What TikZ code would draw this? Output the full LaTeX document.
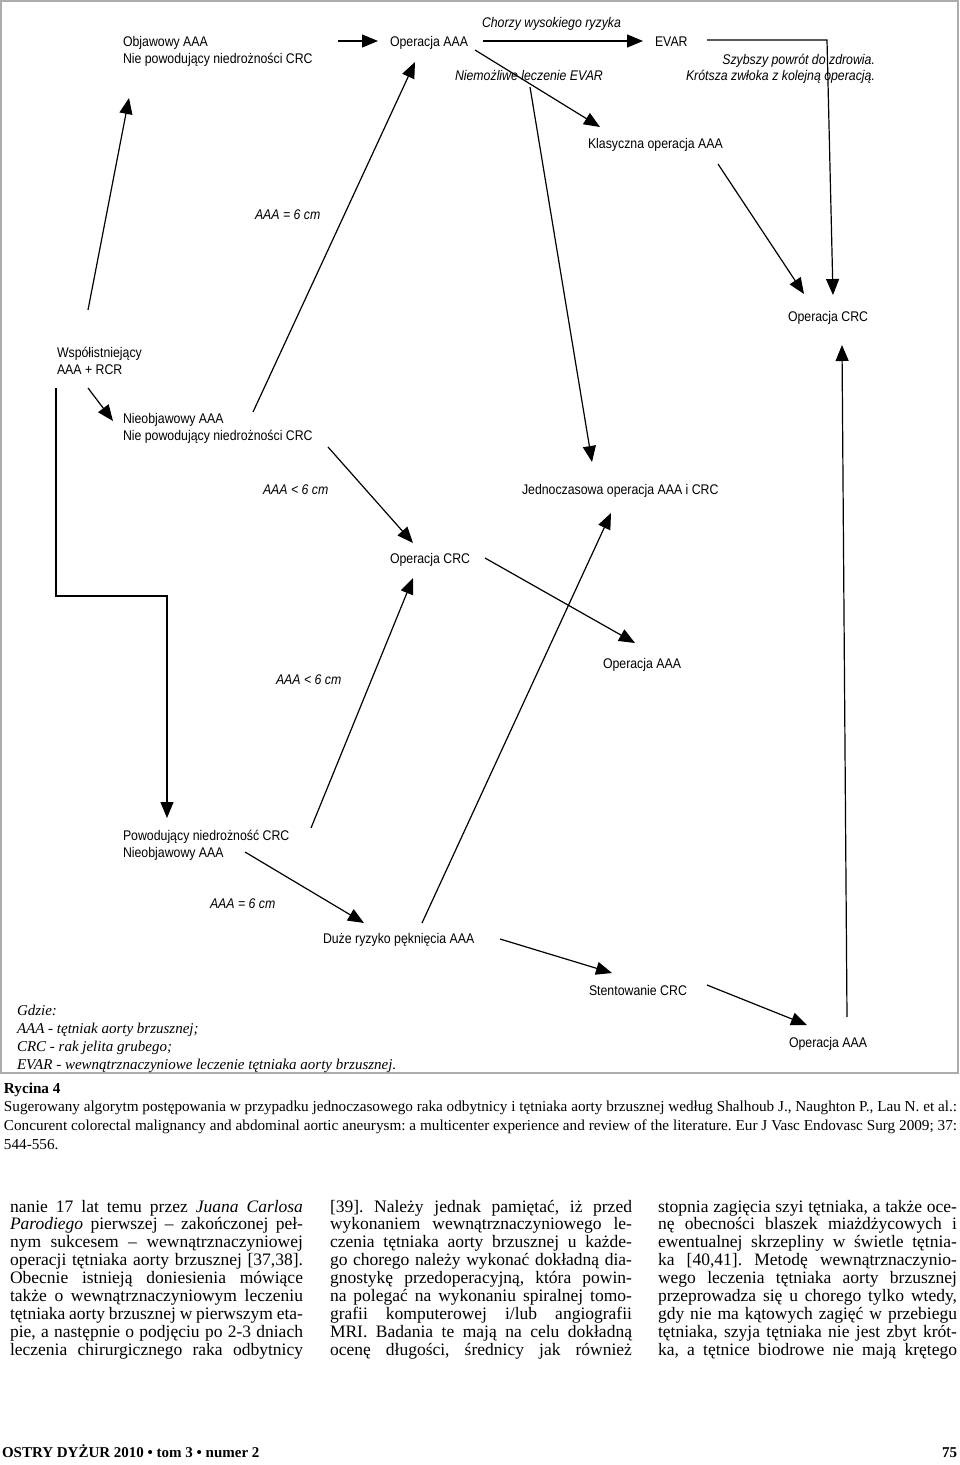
\documentclass[tikz,border=0pt]{standalone}
\usepackage{fontspec}
\setmainfont{Liberation Serif}
\newfontfamily\arial{Liberation Sans}
\usepackage{graphicx}
\usetikzlibrary{arrows.meta}
\frenchspacing
\newcommand\dtx[1]{\scalebox{0.88}[1]{\begin{tabular}[t]{@{}l@{}}#1\end{tabular}}}
\newcommand\dtr[1]{\scalebox{0.88}[1]{\begin{tabular}[t]{@{}r@{}}#1\end{tabular}}}
\newcommand\jl[2]{\makebox[#1][s]{#2}}
\newcommand\coltab[1]{\begin{tabular}[t]{@{}l@{}}#1\end{tabular}}
\begin{document}
\begin{tikzpicture}[x=1pt,y=-1pt]
\tikzset{
  lab/.style={anchor=base west, inner sep=0pt, outer sep=0pt, font=\arial\fontsize{14}{17.5}\selectfont},
  labr/.style={anchor=base east, inner sep=0pt, outer sep=0pt, font=\arial\itshape\fontsize{14}{16}\selectfont},
  arr/.style={-{Triangle[length=16pt,width=13pt]}, line width=1.2pt},
  bodytext/.style={anchor=base west, inner sep=0pt, outer sep=0pt, font=\frenchspacing\fontsize{17.5}{17.9}\selectfont},
  captext/.style={anchor=base west, inner sep=0pt, outer sep=0pt, font=\frenchspacing\fontsize{15.2}{18.7}\selectfont},
  legtext/.style={anchor=base west, inner sep=0pt, outer sep=0pt, font=\itshape\fontsize{15}{18}\selectfont},
  foottext/.style={inner sep=0pt, outer sep=0pt, font=\bfseries\fontsize{15}{18}\selectfont},
}
\useasboundingbox (0,0) rectangle (960,1465);
\fill[white] (0,0) rectangle (960,1465);
\draw[gray!65, line width=2pt] (1,1) rectangle (958,1073);

% ---- diagram nodes ----
\node[lab] (obj) at (123,46) {\dtx{Objawowy AAA\\Nie powodujący niedrożności CRC}};
\node[lab] (opA1) at (390,46) {\dtx{Operacja AAA}};
\node[lab] (chorzy) at (482,27) {\dtx{\itshape Chorzy wysokiego ryzyka}};
\node[lab] (evar) at (655,46) {\dtx{EVAR}};
\node[labr] (szyb) at (875,64) {\dtr{\itshape Szybszy powrót do zdrowia.\\\itshape Krótsza zwłoka z kolejną operacją.}};
\node[lab] (niem) at (455,80) {\dtx{\itshape Niemożliwe leczenie EVAR}};
\node[lab] (klas) at (588,148) {\dtx{Klasyczna operacja AAA}};
\node[lab] (aaa6a) at (255,219) {\dtx{\itshape AAA = 6 cm}};
\node[lab] (opC1) at (788,321) {\dtx{Operacja CRC}};
\node[lab] (wsp) at (57,357) {\dtx{Współistniejący\\AAA + RCR}};
\node[lab] (nieob) at (123,423) {\dtx{Nieobjawowy AAA\\Nie powodujący niedrożności CRC}};
\node[lab] (aaal6a) at (263,494) {\dtx{\itshape AAA < 6 cm}};
\node[lab] (jedn) at (522,494) {\dtx{Jednoczasowa operacja AAA i CRC}};
\node[lab] (opC2) at (390,563) {\dtx{Operacja CRC}};
\node[lab] (opA2) at (603,668) {\dtx{Operacja AAA}};
\node[lab] (aaal6b) at (276,684) {\dtx{\itshape AAA < 6 cm}};
\node[lab] (pow) at (123,840) {\dtx{Powodujący niedrożność CRC\\Nieobjawowy AAA}};
\node[lab] (aaa6b) at (210,908) {\dtx{\itshape AAA = 6 cm}};
\node[lab] (duze) at (323,943) {\dtx{Duże ryzyko pęknięcia AAA}};
\node[lab] (stent) at (589,995) {\dtx{Stentowanie CRC}};
\node[lab] (opA3) at (789,1047) {\dtx{Operacja AAA}};

% ---- connector end points ----
\coordinate (a1s) at (338,41);  \coordinate (a1e) at (378,41);
\coordinate (a2s) at (483,41);  \coordinate (a2e) at (643,41);
\coordinate (a3s) at (707,40);  \coordinate (a3m) at (827,40); \coordinate (a3e) at (833,295);
\coordinate (a4s) at (475,50);  \coordinate (a4e) at (600,127);
\coordinate (a5s) at (530,87);  \coordinate (a5e) at (592,462);
\coordinate (a6s) at (718,164); \coordinate (a6e) at (804,294);
\coordinate (a7s) at (847,1017);\coordinate (a7e) at (842,345);
\coordinate (a8s) at (88,310);  \coordinate (a8e) at (129,98);
\coordinate (a9s) at (253,412); \coordinate (a9e) at (415,62);
\coordinate (a10s) at (88,388); \coordinate (a10e) at (113,421);
\coordinate (a11s) at (56,388); \coordinate (a11m) at (56,596); \coordinate (a11n) at (167,596); \coordinate (a11e) at (167,818);
\coordinate (a12s) at (328,447);\coordinate (a12e) at (413,543);
\coordinate (a13s) at (485,558);\coordinate (a13e) at (635,643);
\coordinate (a14s) at (311,828);\coordinate (a14e) at (413,578);
\coordinate (a15s) at (422,923);\coordinate (a15e) at (611,513);
\coordinate (a16s) at (245,852);\coordinate (a16e) at (364,923);
\coordinate (a17s) at (500,939);\coordinate (a17e) at (612,973);
\coordinate (a18s) at (707,985);\coordinate (a18e) at (807,1025);

% ---- connectors ----
\draw[arr] (a1s) -- (a1e);
\draw[arr] (a2s) -- (a2e);
\draw[arr] (a3s) -- (a3m) -- (a3e);
\draw[arr] (a4s) -- (a4e);
\draw[arr] (a5s) -- (a5e);
\draw[arr] (a6s) -- (a6e);
\draw[arr] (a7s) -- (a7e);
\draw[arr] (a8s) -- (a8e);
\draw[arr] (a9s) -- (a9e);
\draw[arr] (a10s) -- (a10e);
\draw[arr] (a11s) -- (a11m) -- (a11n) -- (a11e);
\draw[arr] (a12s) -- (a12e);
\draw[arr] (a13s) -- (a13e);
\draw[arr] (a14s) -- (a14e);
\draw[arr] (a15s) -- (a15e);
\draw[arr] (a16s) -- (a16e);
\draw[arr] (a17s) -- (a17e);
\draw[arr] (a18s) -- (a18e);

% ---- legend ----
\node[legtext] (legend) at (17,1015) {\coltab{Gdzie:\\AAA - tętniak aorty brzusznej;\\CRC - rak jelita grubego;\\EVAR - wewnątrznaczyniowe leczenie tętniaka aorty brzusznej.}};

% ---- caption ----
\node[captext] (caption) at (4,1093) {\coltab{\textbf{Rycina 4}\\
\jl{953pt}{Sugerowany algorytm postępowania w przypadku jednoczasowego raka odbytnicy i tętniaka aorty brzusznej według Shalhoub J., Naughton P., Lau N. et al.:}\\
\jl{953pt}{Concurent colorectal malignancy and abdominal aortic aneurysm: a multicenter experience and review of the literature. Eur J Vasc Endovasc Surg 2009; 37:}\\
544-556.}};

% ---- body columns ----
\node[bodytext] (col1) at (10,1212) {\coltab{%
\jl{293pt}{nanie 17 lat temu przez \textit{Juana Carlosa}}\\
\jl{293pt}{\textit{Parodiego} pierwszej – zakończonej peł-}\\
\jl{293pt}{nym sukcesem – wewnątrznaczyniowej}\\
\jl{293pt}{operacji tętniaka aorty brzusznej [37,38].}\\
\jl{293pt}{Obecnie istnieją doniesienia mówiące}\\
\jl{293pt}{także o wewnątrznaczyniowym leczeniu}\\
\jl{293pt}{tętniaka aorty brzusznej w pierwszym eta-}\\
\jl{293pt}{pie, a następnie o podjęciu po 2-3 dniach}\\
\jl{293pt}{leczenia chirurgicznego raka odbytnicy}}};
\node[bodytext] (col2) at (330,1212) {\coltab{%
\jl{302pt}{[39]. Należy jednak pamiętać, iż przed}\\
\jl{302pt}{wykonaniem wewnątrznaczyniowego le-}\\
\jl{302pt}{czenia tętniaka aorty brzusznej u każde-}\\
\jl{302pt}{go chorego należy wykonać dokładną dia-}\\
\jl{302pt}{gnostykę przedoperacyjną, która powin-}\\
\jl{302pt}{na polegać na wykonaniu spiralnej tomo-}\\
\jl{302pt}{grafii komputerowej i/lub angiografii}\\
\jl{302pt}{MRI. Badania te mają na celu dokładną}\\
\jl{302pt}{ocenę długości, średnicy jak również}}};
\node[bodytext] (col3) at (658,1212) {\coltab{%
\jl{299pt}{stopnia zagięcia szyi tętniaka, a także oce-}\\
\jl{299pt}{nę obecności blaszek miażdżycowych i}\\
\jl{299pt}{ewentualnej skrzepliny w świetle tętnia-}\\
\jl{299pt}{ka [40,41]. Metodę wewnątrznaczynio-}\\
\jl{299pt}{wego leczenia tętniaka aorty brzusznej}\\
\jl{299pt}{przeprowadza się u chorego tylko wtedy,}\\
\jl{299pt}{gdy nie ma kątowych zagięć w przebiegu}\\
\jl{299pt}{tętniaka, szyja tętniaka nie jest zbyt krót-}\\
\jl{299pt}{ka, a tętnice biodrowe nie mają krętego}}};

% ---- footer ----
\node[foottext, anchor=base west] (footl) at (2,1457) {OSTRY DYŻUR 2010 • tom 3 • numer 2};
\node[foottext, anchor=base east] (footr) at (957,1457) {75};
\end{tikzpicture}
\end{document}
